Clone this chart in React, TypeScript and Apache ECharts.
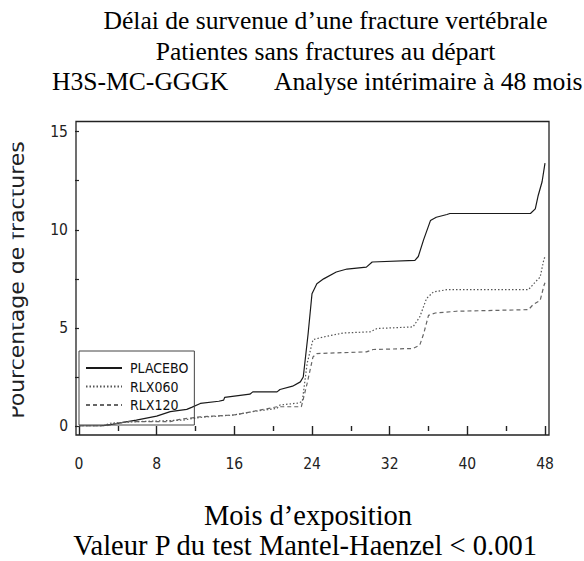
import React, { useEffect, useRef } from "react";
import * as echarts from "echarts";

// Months of exposure (x) and cumulative percentage of fractures (y)
const placeboT = [0, 2.2, 3.5, 5.9, 8.0, 9.4, 11.1, 11.6, 12.5, 14.4, 14.9, 15.0, 17.6, 17.9, 20.4, 20.7, 22.0, 22.8, 23.1, 23.6, 24.0, 24.5, 25.2, 26.5, 27.6, 29.6, 30.2, 34.6, 34.95, 35.5, 36.2, 36.8, 37.9, 38.2, 46.5, 47.0, 47.3, 47.7, 48.0];
const placeboV = [0, 0, 0.1, 0.3, 0.5, 0.73, 0.85, 0.95, 1.15, 1.26, 1.32, 1.46, 1.62, 1.74, 1.74, 1.86, 2.03, 2.25, 2.5, 4.7, 6.74, 7.25, 7.5, 7.85, 8.0, 8.1, 8.36, 8.44, 8.64, 9.5, 10.47, 10.64, 10.78, 10.83, 10.83, 11.07, 11.75, 12.45, 13.4];

const rlx060T = [0, 2.5, 3.2, 5.9, 10.7, 12.5, 15.9, 17.9, 20.4, 20.7, 22.6, 23.0, 23.5, 24.1, 25.2, 27.2, 30.0, 30.7, 34.4, 35.1, 35.8, 36.5, 37.9, 46.3, 47.0, 47.5, 47.9, 48.0];
const rlx060V = [0, 0, 0.14, 0.22, 0.3, 0.44, 0.56, 0.73, 0.9, 1.07, 1.17, 1.25, 3.19, 4.4, 4.54, 4.74, 4.8, 4.97, 5.05, 5.56, 6.5, 6.83, 6.95, 6.95, 7.34, 7.59, 8.53, 8.6];

const rlx120T = [0, 2.8, 3.5, 4.9, 9.4, 10.4, 12.5, 15.9, 17.3, 18.6, 20.4, 22.9, 23.5, 24.1, 24.5, 29.6, 30.3, 34.4, 35.1, 35.5, 36.0, 36.7, 38.9, 46.3, 46.8, 47.5, 47.9, 48.0];
const rlx120V = [0, 0, 0.1, 0.22, 0.22, 0.34, 0.47, 0.56, 0.68, 0.81, 0.98, 0.98, 2.17, 3.52, 3.69, 3.78, 3.9, 3.95, 4.12, 4.7, 5.64, 5.76, 5.85, 5.93, 6.2, 6.4, 7.17, 7.3];

const seriesNames = ["PLACEBO", "RLX060", "RLX120"];
const xMin = 0;
const xMax = 48;
const xInterval = 8;
const yMin = 0;
const yMax = 15;
const yInterval = 2.5;

const titleLines = ["Délai de survenue d\u2019une fracture vertébrale", "Patientes sans fractures au départ"];
const studyCode = "H3S-MC-GGGK";
const studyNote = "Analyse intérimaire à 48 mois";
const xTitle = "Mois d\u2019exposition";
const pValueText = "Valeur P du test Mantel-Haenzel < 0.001";
const yTitle = "Pourcentage de fractures";

const NARROW = "'DejaVu Sans Condensed', 'Liberation Sans', sans-serif";
const SERIF = "'Liberation Serif', 'DejaVu Serif', serif";

function pairs(t: number[], v: number[]) {
  return t.map((x, i) => [x, v[i]]);
}

export default function App() {
  const ref = useRef<HTMLDivElement>(null);
  useEffect(() => {
    if (!ref.current) return;
    const chart = echarts.init(ref.current, null, { renderer: "svg" });
    chart.setOption({
      animation: false,
      backgroundColor: "#ffffff",
      grid: { left: 79, right: 39, top: 131.7, bottom: 135, containLabel: false },
      xAxis: {
        type: "value",
        min: xMin,
        max: xMax,
        interval: xInterval,
        offset: 11,
        axisLine: { show: false },
        axisTick: { show: true, length: 9, lineStyle: { color: "#222", width: 1.4 } },
        minorTick: { show: true, splitNumber: 2, length: 5, lineStyle: { color: "#222", width: 1.4 } },
        splitLine: { show: false },
        minorSplitLine: { show: false },
        axisLabel: { margin: 19, fontFamily: NARROW, fontSize: 15.5, color: "#222" },
      },
      yAxis: {
        type: "value",
        min: yMin,
        max: yMax,
        interval: yInterval,
        offset: 3,
        axisLine: { show: false },
        axisTick: { show: true, length: 4, lineStyle: { color: "#222", width: 1.2 } },
        splitLine: { show: false },
        axisLabel: {
          margin: 8,
          fontFamily: NARROW,
          fontSize: 15.5,
          color: "#222",
          formatter: (v: number) => (Math.abs(v % 5) < 1e-9 ? String(v) : ""),
        },
      },
      legend: {
        orient: "vertical",
        left: 79,
        top: 351,
        padding: [10, 6, 13, 6],
        itemWidth: 36,
        itemHeight: 14,
        itemGap: 4.5,
        borderColor: "#444",
        borderWidth: 1,
        data: seriesNames,
        itemStyle: { opacity: 0, borderWidth: 0 },
        textStyle: { fontFamily: NARROW, fontSize: 14, color: "#111", padding: [0, 0, 0, 3] },
      },
      series: [
        {
          name: seriesNames[0],
          type: "line",
          symbol: "none",
          showSymbol: false,
          data: pairs(placeboT, placeboV),
          lineStyle: { color: "#1a1a1a", width: 1.2, type: "solid" },
          itemStyle: { color: "#1a1a1a" },
        },
        {
          name: seriesNames[1],
          type: "line",
          symbol: "none",
          showSymbol: false,
          data: pairs(rlx060T, rlx060V),
          lineStyle: { color: "#555", width: 1.2, type: [1.5, 2] },
          itemStyle: { color: "#555" },
        },
        {
          name: seriesNames[2],
          type: "line",
          symbol: "none",
          showSymbol: false,
          data: pairs(rlx120T, rlx120V),
          lineStyle: { color: "#666", width: 1.2, type: [4, 3] },
          itemStyle: { color: "#666" },
        },
      ],
      graphic: [
        {
          type: "rect",
          silent: true,
          shape: { x: 76, y: 121.5, width: 473, height: 313.5 },
          style: { fill: "none", stroke: "#222", lineWidth: 1.3 },
          z: 10,
        },
        {
          type: "text",
          x: 325.5,
          y: 20.5,
          style: { text: titleLines[0], font: `25.6px ${SERIF}`, fill: "#000", textAlign: "center", textVerticalAlign: "middle" },
        },
        {
          type: "text",
          x: 325.5,
          y: 51.2,
          style: { text: titleLines[1], font: `25.6px ${SERIF}`, fill: "#000", textAlign: "center", textVerticalAlign: "middle" },
        },
        {
          type: "text",
          x: 52,
          y: 81.2,
          style: { text: studyCode, font: `25.6px ${SERIF}`, fill: "#000", textAlign: "left", textVerticalAlign: "middle" },
        },
        {
          type: "text",
          x: 274,
          y: 81.2,
          style: { text: studyNote, font: `25.6px ${SERIF}`, fill: "#000", textAlign: "left", textVerticalAlign: "middle" },
        },
        {
          type: "text",
          x: 308,
          y: 515.4,
          style: { text: xTitle, font: `28.5px ${SERIF}`, fill: "#000", textAlign: "center", textVerticalAlign: "middle" },
        },
        {
          type: "text",
          x: 305,
          y: 545.5,
          style: { text: pValueText, font: `28.5px ${SERIF}`, fill: "#000", textAlign: "center", textVerticalAlign: "middle" },
        },
        {
          type: "text",
          x: 16.5,
          y: 280,
          rotation: Math.PI / 2,
          style: { text: yTitle, font: `22px 'DejaVu Sans', sans-serif`, fill: "#222", textAlign: "center", textVerticalAlign: "middle" },
        },
        {
          type: "rect",
          silent: true,
          shape: { x: 0, y: 120, width: 12.5, height: 320 },
          style: { fill: "#ffffff" },
          z: 20,
        },
      ],
    });
    return () => chart.dispose();
  }, []);
  return (
    <div
      ref={ref}
      style={{ position: "fixed", left: 0, top: 0, width: 584, height: 561, background: "#fff" }}
    />
  );
}
